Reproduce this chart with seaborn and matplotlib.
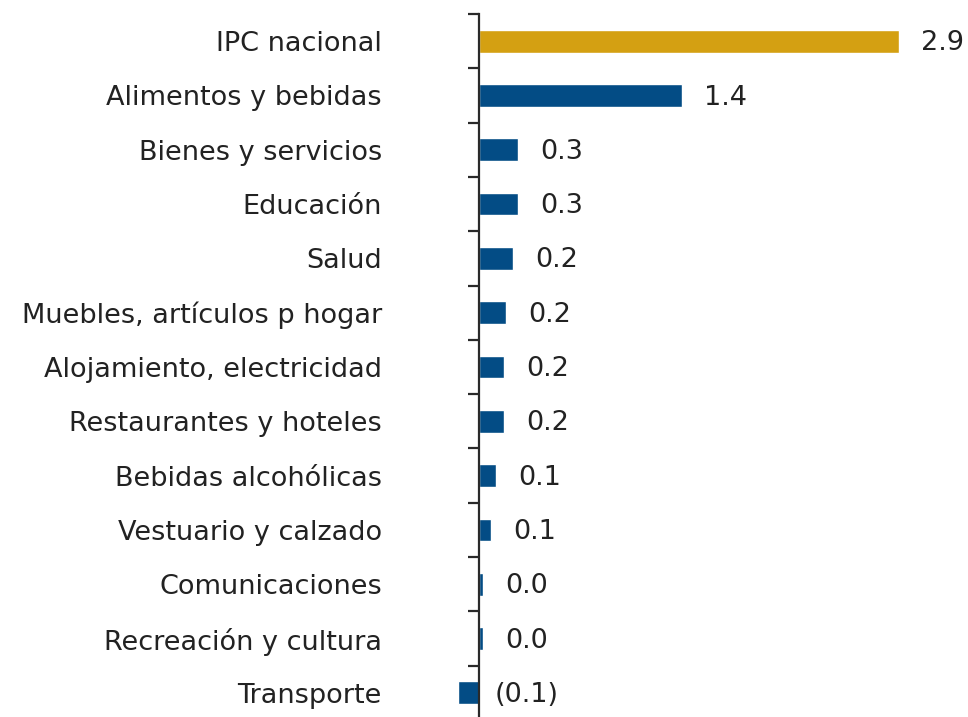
import matplotlib
matplotlib.use("Agg")
import matplotlib.pyplot as plt
import seaborn as sns
import pandas as pd
from matplotlib.ticker import FixedLocator

categories = ["IPC nacional", "Alimentos y bebidas", "Bienes y servicios", "Educación",
              "Salud", "Muebles, artículos p hogar", "Alojamiento, electricidad",
              "Restaurantes y hoteles", "Bebidas alcohólicas", "Vestuario y calzado",
              "Comunicaciones", "Recreación y cultura", "Transporte"]
values = [2.9, 1.4, 0.27, 0.27, 0.235, 0.19, 0.17, 0.17, 0.12, 0.08, 0.03, 0.025, -0.145]
labels = ["2.9", "1.4", "0.3", "0.3", "0.2", "0.2", "0.2", "0.2", "0.1", "0.1", "0.0", "0.0", "(0.1)"]

gold = "#D4A012"
blue = "#034C85"
palette = [gold] + [blue] * (len(categories) - 1)

df = pd.DataFrame({"cat": categories, "val": values})

sns.set_theme(style="white")
plt.rcParams['font.family'] = ['DejaVu Sans']
txt = "#222222"

fig = plt.figure(figsize=(9.68, 7.17), dpi=100)
W, H = 968, 717
x_left, x_right = 440, 968
y_top, y_bot = 14, 720
ax = fig.add_axes([x_left / W, (H - y_bot) / H, (x_right - x_left) / W, (y_bot - y_top) / H])

sns.barplot(data=df, x="val", y="cat", hue="cat", palette=palette, legend=False,
            width=0.42, ax=ax, saturation=1, orient="h")

scale = 144.7  # px per unit
ax.set_xlim(-(479 - x_left) / scale, (x_right - 479) / scale)
ax.set_ylim(len(categories) - 0.5, -0.5)

for s in ["top", "right", "bottom"]:
    ax.spines[s].set_visible(False)
ax.spines["left"].set_position(("data", 0))
ax.spines["left"].set_color("#2a2a2a")
ax.spines["left"].set_linewidth(1.6)

ax.set_xticks([])
ax.set_xlabel("")
ax.set_ylabel("")
ax.yaxis.set_major_locator(FixedLocator(range(len(categories))))
ax.set_yticklabels(categories)
ax.yaxis.set_minor_locator(FixedLocator([i - 0.5 for i in range(len(categories) + 1)]))
ax.tick_params(axis="y", which="major", length=0, pad=70, labelsize=19.5, labelcolor=txt)
ax.tick_params(axis="y", which="minor", length=8, width=1.6, color="#2a2a2a", left=True)
for t in ax.get_yticklabels():
    t.set_y(t.get_position()[1])

for i, (v, lab) in enumerate(zip(values, labels)):
    off = 16 if v >= 0 else 11
    ax.annotate(lab, xy=(max(v, 0), i), xytext=(off, -1.5), textcoords="offset points",
                ha="left", va="center", fontsize=19.5, color=txt)

fig.savefig("out.png", dpi=100)
